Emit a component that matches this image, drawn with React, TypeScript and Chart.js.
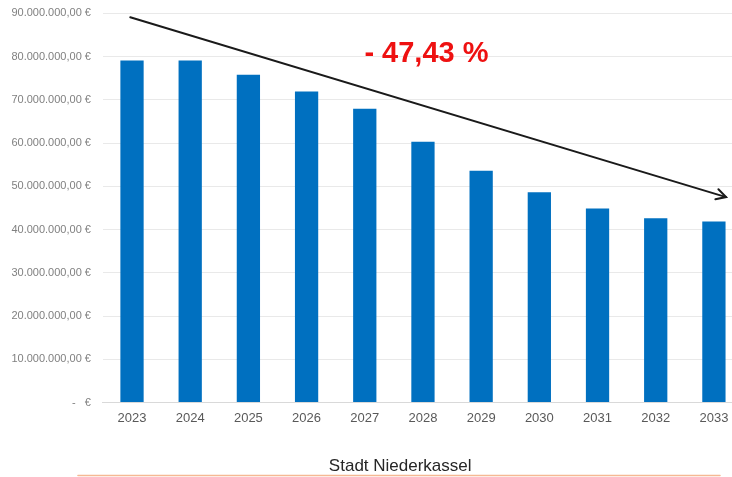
import React, { useEffect, useRef } from "react";
import { Chart, registerables } from "chart.js";

Chart.register(...registerables);

const years = ["2023", "2024", "2025", "2026", "2027", "2028", "2029", "2030", "2031", "2032", "2033"];
const budget = [79.1e6, 79.1e6, 75.8e6, 71.9e6, 67.9e6, 60.3e6, 53.6e6, 48.6e6, 44.85e6, 42.6e6, 41.85e6];
const yMax = 90e6;
const yStep = 10e6;
const chartTitle = "Stadt Niederkassel";
const changeLabel = "- 47,43 %";
// annotation anchors in data space: [category index, value]
const arrowStart = [-0.03, 89.1e6];
const arrowEnd = [10.21, 47.5e6];
const labelAnchor = [5.06, 80.6e6];

const FONT = "'Liberation Sans', Arial, sans-serif";

function formatEuro(v: number): string {
  if (v === 0) return "-   €";
  const fixed = v.toFixed(2);
  const [intPart, dec] = fixed.split(".");
  const withDots = intPart.replace(/\B(?=(\d{3})+(?!\d))/g, ".");
  return `${withDots},${dec} €`;
}

const annotationPlugin = {
  id: "trendAnnotation",
  afterDatasetsDraw(chart: any) {
    const { ctx, scales, chartArea } = chart;
    const x = scales.x;
    const y = scales.y;
    const x1 = x.getPixelForValue(arrowStart[0]);
    const y1 = y.getPixelForValue(arrowStart[1]);
    const x2 = x.getPixelForValue(arrowEnd[0]);
    const y2 = y.getPixelForValue(arrowEnd[1]);
    ctx.save();
    ctx.strokeStyle = "#1a1a1a";
    ctx.lineWidth = 2;
    ctx.lineCap = "round";
    ctx.beginPath();
    ctx.moveTo(x1, y1);
    ctx.lineTo(x2, y2);
    ctx.stroke();
    const ang = Math.atan2(y2 - y1, x2 - x1);
    const headLen = 11;
    const spread = 0.5;
    ctx.beginPath();
    ctx.moveTo(x2 - headLen * Math.cos(ang - spread), y2 - headLen * Math.sin(ang - spread));
    ctx.lineTo(x2, y2);
    ctx.lineTo(x2 - headLen * Math.cos(ang + spread), y2 - headLen * Math.sin(ang + spread));
    ctx.stroke();

    const tx = x.getPixelForValue(labelAnchor[0]);
    const ty = y.getPixelForValue(labelAnchor[1]);
    ctx.fillStyle = "#EE1111";
    ctx.font = `bold 29px ${FONT}`;
    ctx.textAlign = "center";
    ctx.textBaseline = "middle";
    ctx.fillText(changeLabel, tx, ty);

    // decorative orange rule at the bottom
    ctx.strokeStyle = "#f5b994";
    ctx.lineWidth = 1.5;
    ctx.beginPath();
    ctx.moveTo(chartArea.left - 25, chart.height - 1.5);
    ctx.lineTo(720, chart.height - 1.5);
    ctx.stroke();
    ctx.restore();
  },
};

export default function App() {
  const canvasRef = useRef<HTMLCanvasElement | null>(null);

  useEffect(() => {
    if (!canvasRef.current) return;
    const chart = new Chart(canvasRef.current, {
      type: "bar",
      data: {
        labels: years,
        datasets: [
          {
            data: budget,
            backgroundColor: "#0070C0",
            borderWidth: 0,
            barPercentage: 0.4,
            categoryPercentage: 1,
          },
        ],
      },
      options: {
        responsive: false,
        animation: false,
        layout: { padding: { left: 8.4, right: 0, top: 13.3, bottom: 0 } },
        plugins: {
          legend: { display: false },
          tooltip: { enabled: false },
          title: {
            display: true,
            text: chartTitle,
            position: "bottom",
            color: "#262626",
            font: { family: FONT, size: 17, weight: "normal" },
            padding: { top: 22.5, bottom: 0 },
          },
        },
        scales: {
          x: {
            grid: { display: false, drawTicks: false },
            border: { display: true, color: "#d9d9d9", width: 1 },
            ticks: {
              color: "#595959",
              font: { family: FONT, size: 13 },
              padding: 8,
              maxRotation: 0,
              autoSkip: false,
            },
          },
          y: {
            min: 0,
            max: yMax,
            grid: {
              color: "#e9e9e9",
              drawTicks: true,
              tickLength: 9,
              tickColor: "rgba(0,0,0,0)",
              lineWidth: 1,
            },
            border: { display: false },
            ticks: {
              stepSize: yStep,
              color: "#808080",
              font: { family: FONT, size: 11 },
              padding: 3,
              callback: (v: any) => formatEuro(Number(v)),
            },
          },
          yRightSpace: {
            position: "right",
            display: true,
            min: 0,
            max: yMax,
            grid: { display: false, drawTicks: false },
            border: { display: false },
            ticks: { display: false },
            afterFit: (scale: any) => {
              scale.width = 49;
            },
          },
        },
      },
      plugins: [annotationPlugin],
    });
    return () => chart.destroy();
  }, []);

  return (
    <div
      style={{
        position: "fixed",
        left: 0,
        top: 0,
        width: 732,
        height: 477,
        overflow: "hidden",
        background: "#ffffff",
      }}
    >
      <canvas ref={canvasRef} width={792} height={477} style={{ display: "block" }} />
    </div>
  );
}
